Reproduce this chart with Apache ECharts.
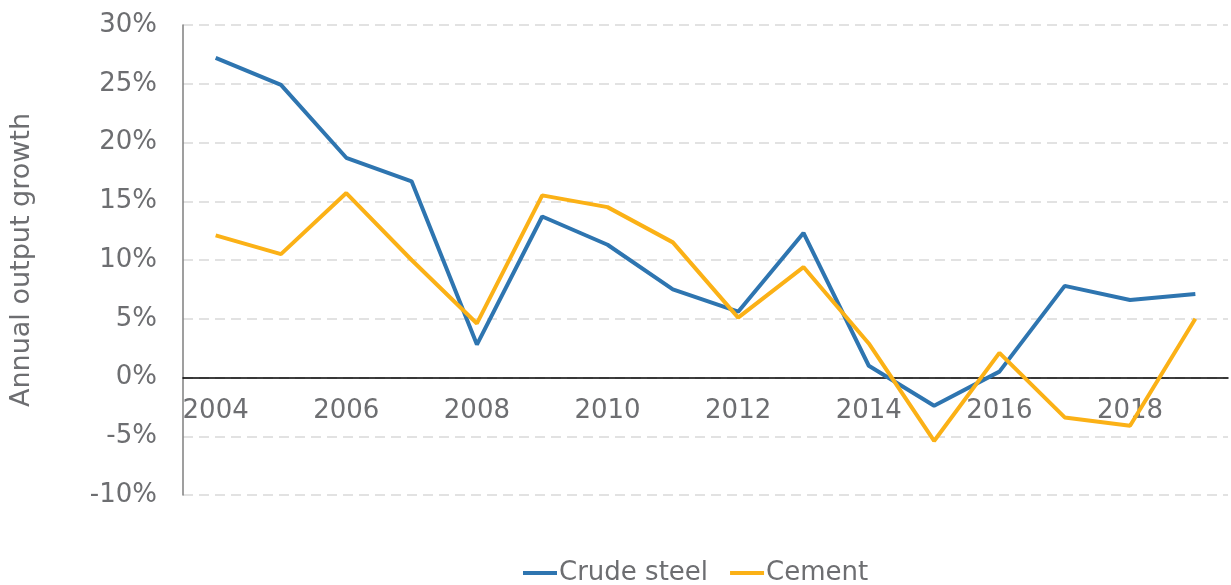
<!DOCTYPE html>
<html>
<head>
<meta charset="utf-8">
<script src="https://cdn.jsdelivr.net/npm/echarts@6/dist/echarts.min.js"></script>
<style>
  html, body { margin: 0; padding: 0; background: #fff; }
  #main { width: 1231px; height: 585px; }
</style>
</head>
<body>
<div id="main"></div>
<script>
var years = ['2004', '2005', '2006', '2007', '2008', '2009', '2010', '2011',
  '2012', '2013', '2014', '2015', '2016', '2017', '2018', '2019'];
var crudeSteel = [27.2, 24.9, 18.7, 16.7, 2.8, 13.7, 11.3, 7.5, 5.6, 12.3, 1.0, -2.4, 0.5, 7.8, 6.6, 7.1];
var cement = [12.1, 10.5, 15.7, 10.0, 4.6, 15.5, 14.5, 11.5, 5.1, 9.4, 2.9, -5.4, 2.1, -3.4, -4.1, 5.0];

var textColor = '#6d6e71';
var fontName = 'DejaVu Sans';

var chart = echarts.init(document.getElementById('main'));

var option = {
  animation: false,
  textStyle: { fontFamily: fontName },
  grid: { left: 183, right: 3, top: 25, bottom: 90 },
  legend: {
    left: 518,
    top: 555,
    icon: 'rect',
    itemWidth: 34,
    itemHeight: 4,
    itemGap: 22,
    textStyle: { fontSize: 26, color: textColor, fontFamily: fontName, padding: [0, 0, 0, -3] },
    data: ['Crude steel', 'Cement']
  },
  xAxis: {
    type: 'category',
    data: years,
    boundaryGap: true,
    axisLine: { onZero: true, lineStyle: { color: '#000', width: 1.5 } },
    axisTick: { show: false },
    // labels sit just under the zero line, like the original
    axisLabel: { interval: 1, color: textColor, fontSize: 26, margin: -97 }
  },
  yAxis: {
    type: 'value',
    min: -10,
    max: 30,
    interval: 5,
    name: 'Annual output growth',
    nameLocation: 'middle',
    nameGap: 148,
    nameTextStyle: { color: textColor, fontSize: 27 },
    axisLine: { show: true, lineStyle: { color: '#7f7f7f', width: 1.5 } },
    axisTick: { show: false },
    axisLabel: { formatter: '{value}%', color: textColor, fontSize: 26, margin: 26 },
    splitLine: { lineStyle: { color: '#d9d9d9', type: [10, 6], width: 1.5 } }
  },
  series: [
    {
      name: 'Crude steel',
      type: 'line',
      data: crudeSteel,
      symbol: 'none',
      lineStyle: { color: '#2e75b0', width: 4 },
      itemStyle: { color: '#2e75b0' }
    },
    {
      name: 'Cement',
      type: 'line',
      data: cement,
      symbol: 'none',
      lineStyle: { color: '#fbb116', width: 4 },
      itemStyle: { color: '#fbb116' }
    }
  ]
};

chart.setOption(option);
</script>
</body>
</html>
